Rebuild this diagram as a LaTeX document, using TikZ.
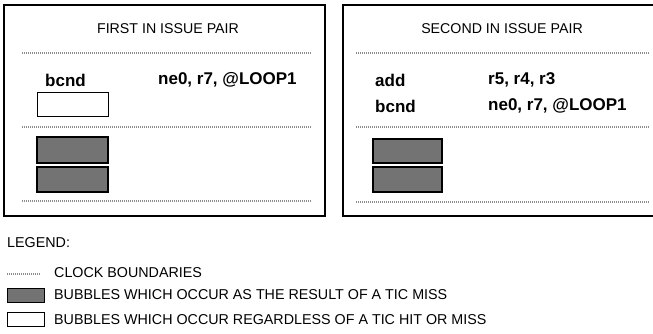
\documentclass[tikz,border=0pt]{standalone}
\usepackage{fontspec}
\setmainfont{Liberation Sans}
\begin{document}
\begin{tikzpicture}[x=1pt,y=-1pt,
  frame/.style={draw=black,line width=1.4pt},
  clockline/.style={draw=black!45,line width=2pt,dash pattern=on 1pt off 1pt},
  missbox/.style={draw=black,line width=1.3pt,fill=black!55},
  hitbox/.style={draw=black,line width=1pt,fill=white},
  title/.style={inner sep=0pt,font=\fontsize{14.2}{16}\selectfont},
  instr/.style={inner sep=0pt,anchor=west,font=\fontsize{17}{19}\selectfont\bfseries},
  legtext/.style={inner sep=0pt,anchor=west,font=\fontsize{14.3}{16}\selectfont}]
\useasboundingbox (0,0) rectangle (653,334);
\clip (0,0) rectangle (653,334);
% left box
\draw[frame] (4,5) rectangle (325,216);
\node[title] (t1) at (168,29) {FIRST IN ISSUE PAIR};
\coordinate (l1a) at (22,53); \coordinate (l1b) at (312,53);
\coordinate (l2a) at (22,127); \coordinate (l2b) at (312,127);
\coordinate (l3a) at (22,201); \coordinate (l3b) at (312,201);
\draw[clockline] (l1a) -- (l1b);
\draw[clockline] (l2a) -- (l2b);
\draw[clockline] (l3a) -- (l3b);
\node[instr] (b1) at (45,80) {bcnd};
\node[instr] (o1) at (158,80) {ne0, r7, @LOOP1};
\draw[hitbox] (37,93) rectangle (108,117);
\draw[missbox] (37,137) rectangle (108,163);
\draw[missbox] (37,167) rectangle (108,192);
% right box
\draw[frame] (343,5) rectangle (660,216);
\node[title] (t2) at (502,29) {SECOND IN ISSUE PAIR};
\coordinate (r1a) at (356,53); \coordinate (r1b) at (650,53);
\coordinate (r2a) at (356,127); \coordinate (r2b) at (650,127);
\coordinate (r3a) at (356,202); \coordinate (r3b) at (650,202);
\draw[clockline] (r1a) -- (r1b);
\draw[clockline] (r2a) -- (r2b);
\draw[clockline] (r3a) -- (r3b);
\node[instr] (a2) at (375,80) {add};
\node[instr] (ao2) at (488,80) {r5, r4, r3};
\node[instr] (b2) at (375,106) {bcnd};
\node[instr] (bo2) at (488,106) {ne0, r7, @LOOP1};
\draw[missbox] (373,139) rectangle (442,163);
\draw[missbox] (373,167) rectangle (442,192);
% legend
\node[legtext] (leg) at (7,243) {LEGEND:};
\coordinate (lca) at (7,274); \coordinate (lcb) at (41,274);
\draw[clockline,line width=1.5pt] (lca) -- (lcb);
\node[legtext] (lc) at (54,273) {CLOCK BOUNDARIES};
\draw[missbox,line width=1pt] (7,288) rectangle (44,302);
\node[legtext] (lm) at (54,295) {BUBBLES WHICH OCCUR AS THE RESULT OF A TIC MISS};
\draw[hitbox] (7,312) rectangle (44,326);
\node[legtext] (lh) at (54,320) {BUBBLES WHICH OCCUR REGARDLESS OF A TIC HIT OR MISS};
\end{tikzpicture}
\end{document}
